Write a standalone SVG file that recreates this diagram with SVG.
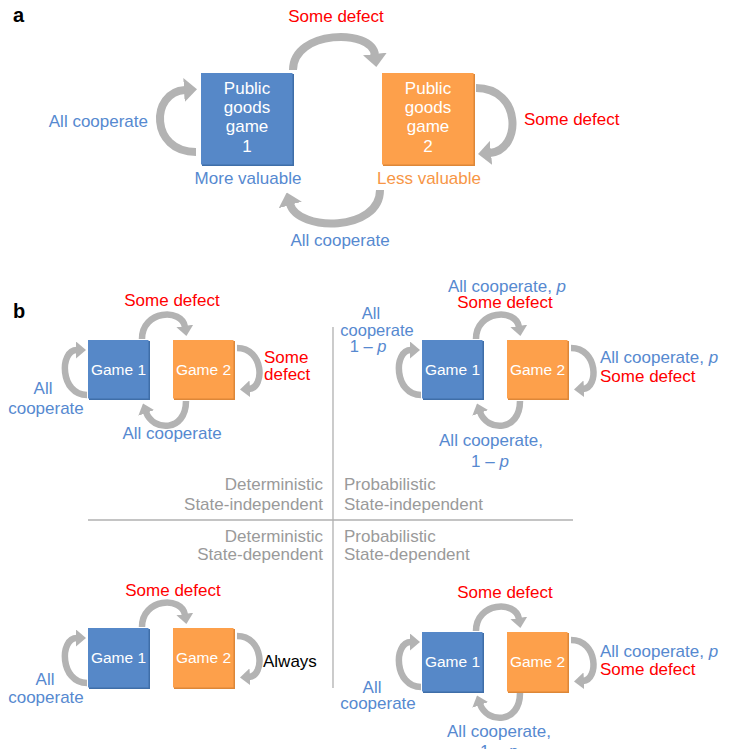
<svg xmlns="http://www.w3.org/2000/svg" width="734" height="749" viewBox="0 0 734 749">
<defs>
<marker id="headA" viewBox="0 0 13 24" markerWidth="13" markerHeight="24" refX="1" refY="12" orient="auto" markerUnits="userSpaceOnUse"><path d="M0,0 L13,12 L0,24 Z" fill="#b3b3b3"/></marker>
<marker id="headB" viewBox="0 0 10 17" markerWidth="10" markerHeight="17" refX="1" refY="8.5" orient="auto" markerUnits="userSpaceOnUse"><path d="M0,0 L10,8.5 L0,17 Z" fill="#b3b3b3"/></marker>
</defs>
<style>
text{font-family:"Liberation Sans",Arial,Helvetica,sans-serif;font-size:17px}
.blue{fill:#5689d0}
.red{fill:#ff0000}
.org{fill:#f79646}
.gray{fill:#9a9a9a}
.blk{fill:#000}
.wht{fill:#ffffff}
.game{fill:#ffffff;font-size:15.5px}
.tight{font-size:16.5px}
.panel{font-weight:bold;font-size:20px;fill:#000}
.b1{fill:#5688c8}
.b2{fill:#fda04b}
.s1{fill:#3f6ea8}
.s2{fill:#dd8738}
.arA{fill:none;stroke:#b3b3b3;stroke-width:8;marker-end:url(#headA)}
.arB{fill:none;stroke:#b3b3b3;stroke-width:6.5;marker-end:url(#headB)}
.rule{stroke:#b0b0b0;stroke-width:1.3;fill:none}
.mid{text-anchor:middle}
.end{text-anchor:end}
</style>

<!-- panel labels -->
<text class="panel" x="13" y="22">a</text>
<text class="panel" x="13" y="318">b</text>

<!-- dividing lines -->
<g id="dividers">
<line class="rule" x1="333" y1="327" x2="333" y2="688"/>
<line class="rule" x1="88" y1="520" x2="573" y2="520"/>
</g>

<!-- connectors -->
<g id="connectors">
<!-- panel a -->
<path class="arA" d="M196 152 C150 152 150 92 185 90"/>
<path class="arA" d="M293 70 C293 30 372 28 375 55"/>
<path class="arA" d="M476 88 C522 88 522 150 490 153"/>
<path class="arA" d="M380 190 C380 232 298 232 290 204"/>
<!-- panel b top-left -->
<g>
<path class="arB" d="M142 339 C142 310 182 308 185 327"/>
<path class="arB" d="M237 348 C264 348 265 388 249 389"/>
<path class="arB" d="M87 395 C60 395 59 350 77 350"/>
<path class="arB" d="M186 401 C186 432 153 432 146 412"/>
</g>
<!-- panel b top-right -->
<g transform="translate(334,0)">
<path class="arB" d="M142 339 C142 310 182 308 185 327"/>
<path class="arB" d="M237 348 C264 348 265 388 249 389"/>
<path class="arB" d="M87 395 C60 395 59 350 77 350"/>
<path class="arB" d="M186 401 C186 432 153 432 146 412"/>
</g>
<!-- panel b bottom-left -->
<g transform="translate(0,288)">
<path class="arB" d="M142 339 C142 310 182 308 185 327"/>
<path class="arB" d="M237 348 C264 348 265 388 249 389"/>
<path class="arB" d="M87 395 C60 395 59 350 77 350"/>
</g>
<!-- panel b bottom-right -->
<g transform="translate(334,292)">
<path class="arB" d="M142 339 C142 310 182 308 185 327"/>
<path class="arB" d="M237 348 C264 348 265 388 249 389"/>
<path class="arB" d="M87 395 C60 395 59 350 77 350"/>
<path class="arB" d="M186 401 C186 432 153 432 146 412"/>
</g>
</g>

<!-- panel a nodes -->
<g id="a-game1">
<rect class="s1" x="202" y="74" width="92" height="92"/>
<rect class="b1" x="201" y="73" width="91.5" height="91.5"/>
<text class="wht mid" x="247" y="94">Public</text>
<text class="wht mid" x="247" y="113">goods</text>
<text class="wht mid" x="247" y="132">game</text>
<text class="wht mid" x="247" y="152">1</text>
</g>
<g id="a-game2">
<rect class="s2" x="383" y="74" width="92" height="92"/>
<rect class="b2" x="382" y="73" width="91.5" height="91.5"/>
<text class="wht mid" x="428" y="94">Public</text>
<text class="wht mid" x="428" y="113">goods</text>
<text class="wht mid" x="428" y="132">game</text>
<text class="wht mid" x="428" y="152">2</text>
</g>
<g id="a-labels">
<text class="blue mid" x="248" y="184">More valuable</text>
<text class="org mid" x="429" y="184">Less valuable</text>
<text class="blue end" x="148" y="127">All cooperate</text>
<text class="red mid" x="336" y="22">Some defect</text>
<text class="red" x="524" y="125">Some defect</text>
<text class="blue mid" x="340" y="246">All cooperate</text>
</g>

<!-- panel b top-left -->
<g id="tl-game1">
<rect class="s1" x="89" y="341" width="61" height="59"/>
<rect class="b1" x="88" y="340" width="60.5" height="58.5"/>
<text class="game mid" x="118.5" y="375">Game 1</text>
</g>
<g id="tl-game2">
<rect class="s2" x="174" y="341" width="61" height="59"/>
<rect class="b2" x="173" y="340" width="60.5" height="58.5"/>
<text class="game mid" x="203.5" y="375">Game 2</text>
</g>
<g id="tl-labels">
<text class="red mid" x="172" y="306">Some defect</text>
<text class="red" x="264" y="363">Some</text>
<text class="red" x="264" y="380">defect</text>
<text class="blue mid" x="43" y="394">All</text>
<text class="blue mid" x="46" y="414">cooperate</text>
<text class="blue mid" x="172" y="439">All cooperate</text>
</g>

<!-- panel b top-right -->
<g id="tr-game1">
<rect class="s1" x="423" y="341" width="61" height="59"/>
<rect class="b1" x="422" y="340" width="60.5" height="58.5"/>
<text class="game mid" x="452.5" y="375">Game 1</text>
</g>
<g id="tr-game2">
<rect class="s2" x="508" y="341" width="61" height="59"/>
<rect class="b2" x="507" y="340" width="60.5" height="58.5"/>
<text class="game mid" x="537.5" y="375">Game 2</text>
</g>
<g id="tr-labels">
<text class="blue mid" x="507" y="292">All cooperate, <tspan font-style="italic">p</tspan></text>
<text class="red mid" x="505" y="308">Some defect</text>
<text class="blue" x="600" y="363">All cooperate, <tspan font-style="italic">p</tspan></text>
<text class="red" x="600" y="382">Some defect</text>
<text class="blue mid tight" x="371" y="319">All</text>
<text class="blue mid tight" x="377" y="336">cooperate</text>
<text class="blue mid tight" x="368" y="352">1 – <tspan font-style="italic">p</tspan></text>
<text class="blue mid" x="491" y="446">All cooperate,</text>
<text class="blue mid" x="490" y="467">1 – <tspan font-style="italic">p</tspan></text>
</g>

<!-- quadrant captions -->
<g id="captions">
<text class="gray end" x="323" y="490">Deterministic</text>
<text class="gray end" x="323" y="510">State-independent</text>
<text class="gray" x="344" y="490">Probabilistic</text>
<text class="gray" x="344" y="510">State-independent</text>
<text class="gray end" x="323" y="542">Deterministic</text>
<text class="gray end" x="323" y="560">State-dependent</text>
<text class="gray" x="344" y="542">Probabilistic</text>
<text class="gray" x="344" y="560">State-dependent</text>
</g>

<!-- panel b bottom-left -->
<g id="bl-game1">
<rect class="s1" x="89" y="629" width="61" height="60"/>
<rect class="b1" x="88" y="628" width="60.5" height="59.5"/>
<text class="game mid" x="118.5" y="663">Game 1</text>
</g>
<g id="bl-game2">
<rect class="s2" x="174" y="629" width="61" height="60"/>
<rect class="b2" x="173" y="628" width="60.5" height="59.5"/>
<text class="game mid" x="203.5" y="663">Game 2</text>
</g>
<g id="bl-labels">
<text class="red mid" x="173" y="596">Some defect</text>
<text class="blk" x="263" y="667">Always</text>
<text class="blue mid" x="45" y="685">All</text>
<text class="blue mid" x="46" y="703">cooperate</text>
</g>

<!-- panel b bottom-right -->
<g id="br-game1">
<rect class="s1" x="423" y="633" width="61" height="60"/>
<rect class="b1" x="422" y="632" width="60.5" height="59.5"/>
<text class="game mid" x="452.5" y="667">Game 1</text>
</g>
<g id="br-game2">
<rect class="s2" x="508" y="633" width="61" height="60"/>
<rect class="b2" x="507" y="632" width="60.5" height="59.5"/>
<text class="game mid" x="537.5" y="667">Game 2</text>
</g>
<g id="br-labels">
<text class="red mid" x="505" y="598">Some defect</text>
<text class="blue" x="600" y="657">All cooperate, <tspan font-style="italic">p</tspan></text>
<text class="red" x="600" y="675">Some defect</text>
<text class="blue mid" x="372" y="693">All</text>
<text class="blue mid" x="378" y="709">cooperate</text>
<text class="blue mid" x="499" y="737">All cooperate,</text>
<text class="blue mid" x="499" y="757">1 – <tspan font-style="italic">p</tspan></text>
</g>
</svg>
